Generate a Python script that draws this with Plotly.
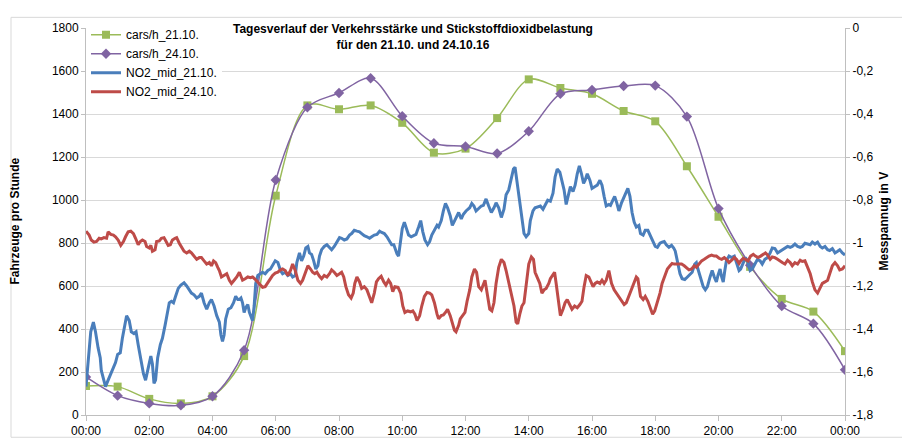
import pandas as pd
import plotly.graph_objects as go

# ---------------- data ----------------
hours = list(range(0, 25))
cars_21 = [135, 132, 75, 54, 87, 274, 1020, 1440, 1422, 1440, 1359, 1220, 1239, 1381,
           1561, 1521, 1494, 1414, 1366, 1157, 922, 689, 540, 481, 297]
cars_24 = [177, 90, 54, 45, 87, 301, 1093, 1431, 1498, 1566, 1390, 1264, 1249, 1216,
           1320, 1494, 1512, 1530, 1532, 1388, 960, 697, 507, 425, 210]

no2_21_min = [0, 9, 14, 18, 23, 27, 29, 33, 37, 42, 47, 52, 56, 60, 65, 69, 74, 77, 82, 86,
              91, 95, 99, 104, 109, 113, 118, 123, 126, 129, 132, 136, 141, 145, 150, 155, 158, 162, 166, 170,
              175, 180, 186, 191, 196, 200, 205, 210, 215, 219, 224, 229, 234, 238, 243, 248, 253, 256, 259, 262,
              265, 270, 275, 280, 284, 288, 291, 294, 297, 300, 303, 307, 310, 313, 316, 319, 322, 326, 331, 335,
              340, 345, 350, 354, 359, 364, 369, 373, 378, 383, 388, 392, 397, 400, 405, 409, 413, 417, 421, 424,
              428, 432, 436, 440, 443, 447, 452, 457, 462, 466, 471, 476, 481, 485, 490, 495, 500, 504, 509, 514,
              519, 523, 528, 533, 538, 542, 547, 552, 557, 561, 566, 571, 576, 580, 584, 586, 590, 593, 597, 600,
              604, 608, 612, 617, 622, 626, 631, 635, 639, 643, 648, 652, 656, 661, 666, 669, 674, 678, 682, 686,
              691, 695, 699, 704, 707, 712, 716, 721, 728, 732, 736, 740, 745, 750, 754, 759, 764, 769, 774, 778,
              783, 788, 793, 797, 802, 807, 811, 814, 818, 823, 827, 831, 835, 840, 843, 848, 852, 857, 862, 867,
              871, 876, 881, 886, 890, 894, 899, 903, 907, 911, 916, 919, 924, 928, 932, 936, 940, 944, 947, 951,
              956, 960, 965, 970, 975, 979, 983, 987, 992, 995, 1000, 1003, 1007, 1011, 1016, 1021, 1025, 1028, 1032, 1036,
              1040, 1044, 1049, 1052, 1057, 1061, 1066, 1071, 1076, 1080, 1084, 1089, 1093, 1097, 1101, 1106, 1111, 1115, 1118, 1122,
              1127, 1131, 1136, 1141, 1146, 1150, 1155, 1158, 1161, 1166, 1171, 1175, 1179, 1184, 1188, 1192, 1196, 1199, 1203, 1206,
              1209, 1212, 1215, 1220, 1225, 1230, 1234, 1239, 1242, 1247, 1251, 1255, 1260, 1264, 1269, 1274, 1279, 1283, 1288, 1293,
              1298, 1302, 1307, 1312, 1317, 1321, 1326, 1331, 1336, 1340, 1345, 1350, 1355, 1359, 1364, 1369, 1374, 1378, 1383, 1388,
              1393, 1397, 1402, 1407, 1411, 1416, 1421, 1426, 1430, 1435, 1440]
no2_21 = [-1.668, -1.413, -1.368, -1.413, -1.488, -1.533, -1.593, -1.638, -1.668, -1.638, -1.608, -1.578, -1.556, -1.518, -1.511, -1.443, -1.383, -1.338, -1.361, -1.413,
          -1.421, -1.413, -1.473, -1.548, -1.608, -1.638, -1.578, -1.526, -1.563, -1.653, -1.638, -1.533, -1.473, -1.443, -1.383, -1.323, -1.278, -1.271, -1.278, -1.248,
          -1.211, -1.196, -1.185, -1.2, -1.218, -1.233, -1.241, -1.256, -1.248, -1.233, -1.278, -1.308, -1.278, -1.263, -1.293, -1.338, -1.368, -1.428, -1.458, -1.428,
          -1.353, -1.308, -1.301, -1.278, -1.248, -1.263, -1.263, -1.256, -1.278, -1.323, -1.301, -1.286, -1.323, -1.346, -1.361, -1.293, -1.188, -1.151, -1.143, -1.136,
          -1.143, -1.128, -1.121, -1.106, -1.083, -1.091, -1.128, -1.143, -1.136, -1.151, -1.143, -1.158, -1.151, -1.091, -1.046, -1.083, -1.061, -1.023, -1.016, -1.046,
          -1.053, -1.083, -1.121, -1.106, -1.061, -1.031, -1.016, -1.008, -1.023, -1.031, -1.016, -0.993, -0.975, -0.978, -0.986, -0.981, -0.963, -0.956, -0.941, -0.945,
          -0.948, -0.956, -0.966, -0.971, -0.978, -0.971, -0.963, -0.96, -0.945, -0.951, -0.956, -0.971, -0.993, -1.008, -1.008, -1.023, -1.05, -1.061, -0.993, -0.933,
          -0.903, -0.933, -0.963, -0.971, -0.963, -0.96, -0.926, -0.896, -0.948, -0.986, -1.008, -0.993, -0.963, -0.941, -0.918, -0.926, -0.896, -0.851, -0.816, -0.836,
          -0.873, -0.918, -0.896, -0.866, -0.858, -0.888, -0.866, -0.851, -0.836, -0.816, -0.828, -0.851, -0.84, -0.828, -0.825, -0.795, -0.828, -0.858, -0.836, -0.813,
          -0.836, -0.881, -0.843, -0.776, -0.753, -0.693, -0.656, -0.648, -0.723, -0.828, -0.903, -0.956, -0.971, -0.956, -0.896, -0.851, -0.836, -0.831, -0.828, -0.843,
          -0.821, -0.801, -0.806, -0.768, -0.693, -0.656, -0.671, -0.708, -0.753, -0.821, -0.768, -0.738, -0.761, -0.731, -0.678, -0.641, -0.678, -0.723, -0.708, -0.678,
          -0.708, -0.746, -0.738, -0.731, -0.708, -0.731, -0.783, -0.828, -0.821, -0.825, -0.798, -0.783, -0.813, -0.851, -0.813, -0.783, -0.761, -0.746, -0.783, -0.858,
          -0.903, -0.926, -0.918, -0.956, -0.963, -0.941, -0.941, -0.971, -0.993, -1.016, -1.02, -1.001, -0.996, -0.993, -1.008, -1.02, -1.011, -1.023, -1.038, -1.083,
          -1.143, -1.166, -1.17, -1.158, -1.143, -1.136, -1.098, -1.091, -1.121, -1.166, -1.203, -1.218, -1.203, -1.158, -1.128, -1.158, -1.181, -1.151, -1.121, -1.158,
          -1.181, -1.128, -1.083, -1.061, -1.068, -1.061, -1.091, -1.128, -1.121, -1.091, -1.068, -1.083, -1.128, -1.121, -1.098, -1.076, -1.083, -1.098, -1.076, -1.068,
          -1.046, -1.023, -1.026, -1.046, -1.038, -1.031, -1.026, -1.016, -1.02, -1.016, -1.005, -1.016, -1.02, -1.016, -1.001, -1.005, -1.008, -0.996, -1.005, -0.996,
          -1.016, -1.023, -1.016, -1.031, -1.035, -1.026, -1.046, -1.038, -1.031, -1.046, -1.056]

no2_24_min = [0, 6, 10, 15, 20, 25, 29, 34, 39, 42, 47, 52, 56, 61, 66, 71, 75, 80, 85, 90,
              94, 99, 103, 107, 112, 115, 120, 123, 126, 131, 134, 139, 143, 148, 152, 156, 160, 164, 169, 172,
              177, 181, 186, 191, 196, 200, 205, 210, 215, 219, 224, 229, 234, 238, 242, 246, 250, 253, 257, 262,
              267, 272, 276, 281, 286, 291, 294, 297, 302, 307, 312, 316, 321, 326, 331, 335, 340, 345, 350, 354,
              359, 364, 369, 373, 378, 383, 388, 392, 397, 402, 407, 411, 416, 421, 426, 430, 434, 438, 443, 447,
              452, 457, 462, 466, 471, 476, 481, 485, 489, 493, 498, 503, 507, 510, 514, 519, 523, 528, 533, 538,
              542, 547, 551, 555, 560, 565, 569, 574, 578, 582, 586, 592, 597, 601, 605, 610, 616, 620, 624, 628,
              633, 637, 642, 647, 652, 656, 661, 666, 669, 674, 678, 682, 686, 691, 695, 699, 702, 707, 710, 715,
              719, 723, 728, 732, 737, 741, 745, 750, 754, 757, 761, 766, 770, 774, 778, 783, 788, 793, 797, 802,
              807, 812, 816, 819, 823, 827, 831, 835, 840, 845, 849, 852, 856, 861, 865, 869, 873, 878, 881, 886,
              889, 892, 897, 900, 905, 909, 913, 918, 922, 927, 932, 937, 941, 945, 949, 954, 957, 962, 966, 970,
              975, 979, 983, 987, 992, 997, 1002, 1006, 1011, 1016, 1021, 1025, 1030, 1035, 1040, 1044, 1047, 1052, 1057, 1061,
              1066, 1071, 1075, 1079, 1084, 1089, 1093, 1098, 1103, 1108, 1112, 1116, 1120, 1125, 1130, 1135, 1139, 1144, 1149, 1154,
              1158, 1163, 1168, 1173, 1177, 1182, 1187, 1192, 1196, 1201, 1206, 1211, 1215, 1220, 1225, 1230, 1234, 1239, 1242, 1247,
              1251, 1256, 1261, 1266, 1270, 1275, 1280, 1285, 1289, 1293, 1298, 1302, 1307, 1312, 1317, 1321, 1326, 1331, 1336, 1340,
              1345, 1350, 1355, 1359, 1364, 1369, 1374, 1378, 1383, 1388, 1393, 1397, 1402, 1407, 1411, 1416, 1421, 1426, 1430, 1435,
              1440]
no2_24 = [-0.945, -0.963, -0.986, -0.996, -0.993, -0.978, -0.981, -0.975, -0.978, -0.948, -0.96, -0.963, -0.971, -0.986, -1.011, -0.993, -0.971, -0.948, -0.945, -0.956,
          -0.978, -1.008, -0.993, -0.986, -0.993, -1.016, -1.023, -1.011, -1.038, -1.031, -0.993, -0.99, -0.978, -0.975, -0.993, -1.011, -1.008, -0.986, -0.978, -0.975,
          -1.001, -1.016, -1.038, -1.046, -1.038, -1.046, -1.061, -1.076, -1.068, -1.068, -1.083, -1.098, -1.091, -1.106, -1.083, -1.091, -1.113, -1.128, -1.158, -1.151,
          -1.143, -1.173, -1.188, -1.173, -1.158, -1.136, -1.151, -1.173, -1.166, -1.158, -1.161, -1.158, -1.169, -1.181, -1.196, -1.206, -1.203, -1.181, -1.166, -1.151,
          -1.14, -1.136, -1.125, -1.121, -1.128, -1.151, -1.128, -1.098, -1.128, -1.173, -1.188, -1.173, -1.136, -1.106, -1.121, -1.136, -1.143, -1.136, -1.155, -1.166,
          -1.151, -1.158, -1.143, -1.125, -1.136, -1.151, -1.143, -1.136, -1.158, -1.203, -1.241, -1.256, -1.233, -1.188, -1.158, -1.181, -1.211, -1.203, -1.218, -1.248,
          -1.278, -1.233, -1.181, -1.166, -1.155, -1.181, -1.196, -1.173, -1.188, -1.226, -1.203, -1.206, -1.233, -1.293, -1.323, -1.316, -1.32, -1.316, -1.331, -1.361,
          -1.338, -1.293, -1.248, -1.23, -1.233, -1.241, -1.278, -1.331, -1.353, -1.338, -1.335, -1.323, -1.308, -1.338, -1.368, -1.406, -1.413, -1.383, -1.353, -1.338,
          -1.323, -1.271, -1.218, -1.158, -1.121, -1.136, -1.203, -1.218, -1.188, -1.173, -1.233, -1.308, -1.316, -1.278, -1.188, -1.113, -1.076, -1.091, -1.128, -1.188,
          -1.241, -1.293, -1.368, -1.376, -1.331, -1.293, -1.278, -1.188, -1.098, -1.065, -1.076, -1.136, -1.158, -1.188, -1.233, -1.218, -1.211, -1.188, -1.166, -1.143,
          -1.136, -1.188, -1.278, -1.338, -1.308, -1.278, -1.263, -1.293, -1.308, -1.293, -1.301, -1.286, -1.271, -1.203, -1.151, -1.158, -1.173, -1.203, -1.188, -1.181,
          -1.188, -1.173, -1.188, -1.173, -1.128, -1.188, -1.218, -1.233, -1.248, -1.271, -1.286, -1.278, -1.248, -1.218, -1.188, -1.158, -1.166, -1.248, -1.263, -1.248,
          -1.271, -1.308, -1.331, -1.316, -1.278, -1.233, -1.188, -1.151, -1.121, -1.106, -1.095, -1.098, -1.098, -1.101, -1.098, -1.106, -1.113, -1.125, -1.121, -1.106,
          -1.113, -1.098, -1.083, -1.076, -1.068, -1.061, -1.056, -1.061, -1.061, -1.071, -1.076, -1.068, -1.076, -1.091, -1.08, -1.068, -1.076, -1.095, -1.083, -1.071,
          -1.076, -1.083, -1.061, -1.053, -1.061, -1.068, -1.061, -1.053, -1.046, -1.056, -1.076, -1.065, -1.068, -1.076, -1.086, -1.091, -1.098, -1.08, -1.091, -1.106,
          -1.091, -1.098, -1.08, -1.086, -1.083, -1.113, -1.143, -1.181, -1.218, -1.233, -1.211, -1.188, -1.181, -1.173, -1.143, -1.106, -1.091, -1.106, -1.125, -1.121,
          -1.106]

left_ticks = [0, 200, 400, 600, 800, 1000, 1200, 1400, 1600, 1800]
right_ticks = [0, -0.2, -0.4, -0.6, -0.8, -1.0, -1.2, -1.4, -1.6, -1.8]
right_ticktext = ["0", "-0,2", "-0,4", "-0,6", "-0,8", "-1", "-1,2", "-1,4", "-1,6", "-1,8"]

title_lines = ["Tagesverlauf der Verkehrsstärke und Stickstoffdioxidbelastung",
               "für den 21.10. und 24.10.16"]
left_title = "Fahrzeuge pro Stunde"
right_title = "Messpannug in V"

# ---------------- figure ----------------
base = pd.Timestamp("2016-10-21 00:00")
t_hours = [base + pd.Timedelta(hours=h) for h in hours]
t_no2_21 = [base + pd.Timedelta(minutes=m) for m in no2_21_min]
t_no2_24 = [base + pd.Timedelta(minutes=m) for m in no2_24_min]

BLUE = "#4A7EBB"
RED = "#BE4B48"
GREEN = "#9BBB59"
PURPLE = "#8064A2"
FONT = "Liberation Sans, Arial, sans-serif"

fig = go.Figure()
fig.add_trace(go.Scatter(x=t_no2_21, y=no2_21, name="NO2_mid_21.10.", mode="lines",
                         line=dict(color=BLUE, width=3), yaxis="y2", legendrank=3))
fig.add_trace(go.Scatter(x=t_no2_24, y=no2_24, name="NO2_mid_24.10.", mode="lines",
                         line=dict(color=RED, width=3), yaxis="y2", legendrank=4))
fig.add_trace(go.Scatter(x=t_hours, y=cars_21, name="cars/h_21.10.", mode="lines+markers",
                         line=dict(color=GREEN, width=1.5, shape="spline", smoothing=0.9),
                         marker=dict(symbol="square", size=8, color=GREEN), legendrank=1))
fig.add_trace(go.Scatter(x=t_hours, y=cars_24, name="cars/h_24.10.", mode="lines+markers",
                         line=dict(color=PURPLE, width=1.5, shape="spline", smoothing=0.9),
                         marker=dict(symbol="diamond", size=8, color=PURPLE), legendrank=2))

title_html = "<br>".join("<b>" + s + "</b>" for s in title_lines)

fig.update_layout(
    width=910, height=442,
    margin=dict(l=78, r=73, t=16, b=26),
    paper_bgcolor="white", plot_bgcolor="white",
    font=dict(family=FONT, size=12, color="#000000"),
    showlegend=True,
    legend=dict(x=0.0, y=1.02, xanchor="left", yanchor="top", bgcolor="white",
                font=dict(size=12), itemwidth=30, tracegroupgap=0),
    xaxis=dict(type="date",
               range=[base, base + pd.Timedelta(hours=24)],
               dtick=2 * 3600 * 1000, tick0=base, tickformat="%H:%M",
               showgrid=False, showline=True, linecolor="#BFBFBF", linewidth=1,
               ticks="outside", ticklen=5, tickcolor="#BFBFBF", zeroline=False,
               tickfont=dict(size=12)),
    yaxis=dict(range=[0, 1800], tickvals=left_ticks, showgrid=True, gridcolor="#D9D9D9",
               showline=True, linecolor="#BFBFBF", ticks="outside", ticklen=4,
               tickcolor="#BFBFBF", zeroline=False, tickfont=dict(size=12)),
    yaxis2=dict(range=[-1.8, 0], overlaying="y", side="right", tickvals=right_ticks,
                ticktext=right_ticktext, showgrid=False, showline=True, linecolor="#BFBFBF",
                ticks="outside", ticklen=4, tickcolor="#BFBFBF", zeroline=False,
                tickfont=dict(size=12)),
    annotations=[
        dict(text=title_html, xref="paper", yref="paper",
             x=0.431, y=0.9755, xanchor="center", yanchor="middle", showarrow=False,
             font=dict(size=12, family=FONT)),
        dict(text="<b>" + left_title + "</b>", xref="paper", yref="paper", x=0, y=0.5,
             xshift=-72, textangle=-90, showarrow=False, xanchor="center", yanchor="middle",
             font=dict(size=12, family=FONT)),
        dict(text="<b>" + right_title + "</b>", xref="paper", yref="paper", x=1, y=0.5,
             xshift=38, textangle=-90, showarrow=False, xanchor="center", yanchor="middle",
             font=dict(size=12, family=FONT)),
    ],
    shapes=[dict(type="rect", xref="paper", yref="paper", x0=-0.0988, x1=1.0922,
                 y0=-0.0575, y1=1.0275, line=dict(color="#D9D9D9", width=1))],
)

fig.write_html("out.html")
